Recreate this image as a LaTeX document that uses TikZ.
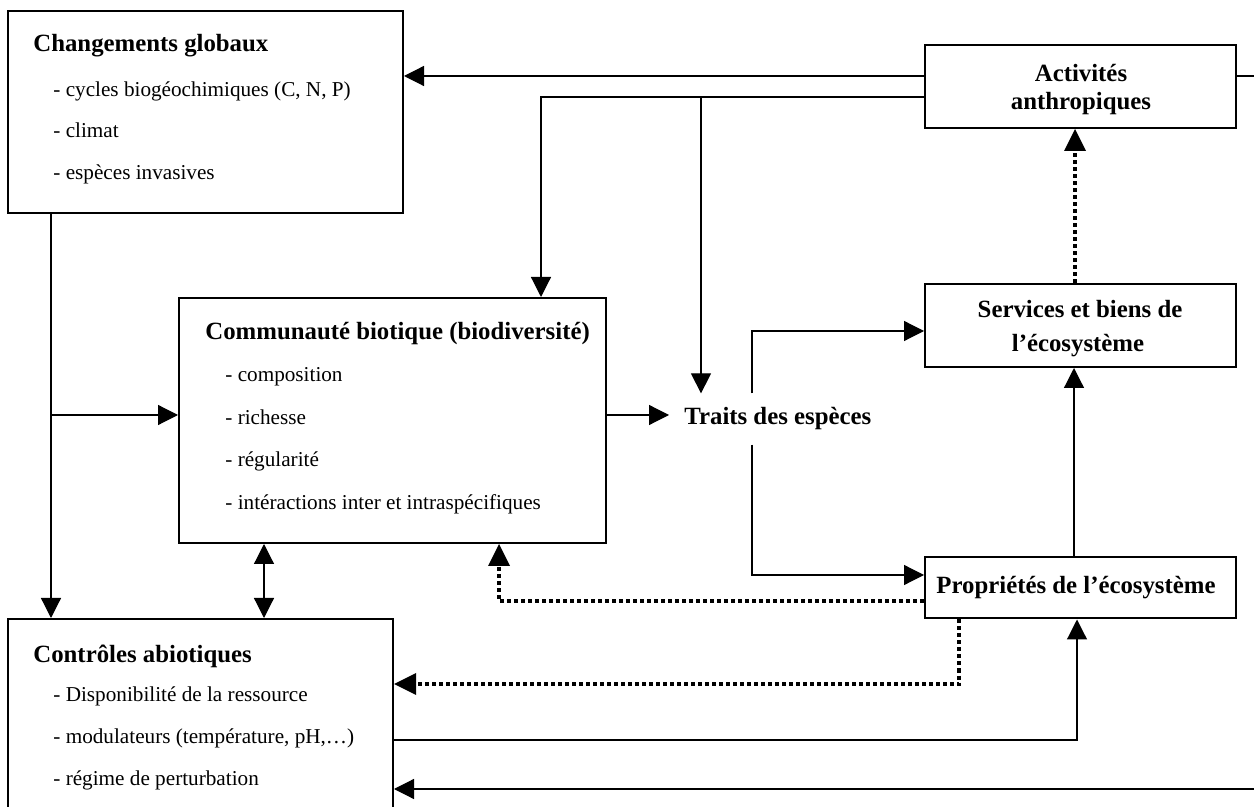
\documentclass[tikz,border=0pt]{standalone}
\usepackage{fontspec}
\setmainfont{Liberation Serif}
\usetikzlibrary{arrows.meta}
\begin{document}
\begin{tikzpicture}[x=0.5pt,y=-0.5pt,
  box/.style={draw,line width=1pt,inner sep=0pt,rectangle},
  conn/.style={line width=0.6pt},
  dots/.style={line width=1.75pt,dash pattern=on 2pt off 1.5pt},
  arr/.style={-{Triangle[length=10pt,width=10pt]}},
  darr/.style={{Triangle[length=10pt,width=10pt]}-{Triangle[length=10pt,width=10pt]}},
  dotarr/.style={-{Triangle[length=11pt,width=11pt,line width=0pt]}},
  ttl/.style={font=\fontsize{12.4}{15}\selectfont\bfseries,inner sep=0pt,anchor=base west},
  ctr/.style={font=\fontsize{12.4}{15}\selectfont\bfseries,inner sep=0pt,anchor=base},
  itm/.style={font=\fontsize{10.6}{13}\selectfont,inner sep=0pt,anchor=base west}]
\useasboundingbox (0,0) rectangle (1254,807);

% Boxes
\node[box,minimum width=197.5pt,minimum height=101pt] (chg) at (205.5,112) {};
\node[box,minimum width=155.5pt,minimum height=41.5pt] (act) at (1080.5,86.5) {};
\node[box,minimum width=155.5pt,minimum height=41.5pt] (serv) at (1080.5,325.5) {};
\node[box,minimum width=155.5pt,minimum height=30.5pt] (prop) at (1080.5,588) {};
\node[box,minimum width=213.5pt,minimum height=122.5pt] (comm) at (392.5,420.5) {};
\node[box,minimum width=192.5pt,minimum height=105.5pt] (ctrl) at (200.5,724.5) {};

% Texts
\node[ttl] (chgT) at (33,52) {Changements globaux};
\node[itm] (chg1) at (53,97) {- cycles biogéochimiques (C, N, P)};
\node[itm] (chg2) at (53,138) {- climat};
\node[itm] (chg3) at (53,180) {- espèces invasives};

\node[ctr] (actA) at (1081,82) {Activités};
\node[ctr] (actB) at (1081,110) {anthropiques};

\node[ctr] (servA) at (1080,318) {Services et biens de};
\node[ctr] (servB) at (1078,352) {l’écosystème};

\node[ctr] (propT) at (1076,594) {Propriétés de l’écosystème};

\node[ttl] (commT) at (205,340) {Communauté biotique (biodiversité)};
\node[itm] (comm1) at (225,382) {- composition};
\node[itm] (comm2) at (225,425) {- richesse};
\node[itm] (comm3) at (225,467) {- régularité};
\node[itm] (comm4) at (225,510) {- intéractions inter et intraspécifiques};

\node[ttl,inner xsep=7.5pt,inner ysep=7pt] (traits) at (669,425) {Traits des espèces};

\node[ttl] (ctrlT) at (33,662) {Contrôles abiotiques};
\node[itm] (ctrl1) at (53,702) {- Disponibilité de la ressource};
\node[itm] (ctrl2) at (53,743) {- modulateurs (température, pH,…)};
\node[itm] (ctrl3) at (53,785) {- régime de perturbation};

% Connectors
\draw[conn,arr] (act.west|-0,76) -- (chg.east|-0,76);
\draw[conn,arr] (act.west|-0,97) -- (541,97) -- (comm.north-|541,0);
\draw[conn,arr] (701,97) -- (traits.north-|701,0);
\draw[conn,arr] (chg.south-|51,0) -- (ctrl.north-|51,0);
\draw[conn,arr] (51,415) -- (comm.west|-0,415);
\draw[conn,darr] (comm.south-|264,0) -- (ctrl.north-|264,0);
\draw[conn,arr] (comm.east|-0,415) -- (traits.west|-0,415);
\draw[conn,arr] (traits.north-|752,0) -- (752,331) -- (serv.west|-0,331);
\draw[conn,arr] (traits.south-|752,0) -- (752,575) -- (prop.west|-0,575);
\draw[conn,arr] (prop.north-|1074,0) -- (serv.south-|1074,0);
\draw[dots,dotarr] (serv.north-|1075,0) -- (act.south-|1075,0);
\draw[dots,dotarr] (prop.west|-0,601) -- (499,601) -- (comm.south-|499,0);
\draw[dots,dotarr] (prop.south-|959,0) -- (959,684) -- (ctrl.east|-0,684);
\draw[conn,arr] (ctrl.east|-0,740) -- (1077,740) -- (prop.south-|1077,0);
\draw[conn,arr] (act.east|-0,76) -- (1275,76) -- (1275,789) -- (ctrl.east|-0,789);
\end{tikzpicture}
\end{document}
